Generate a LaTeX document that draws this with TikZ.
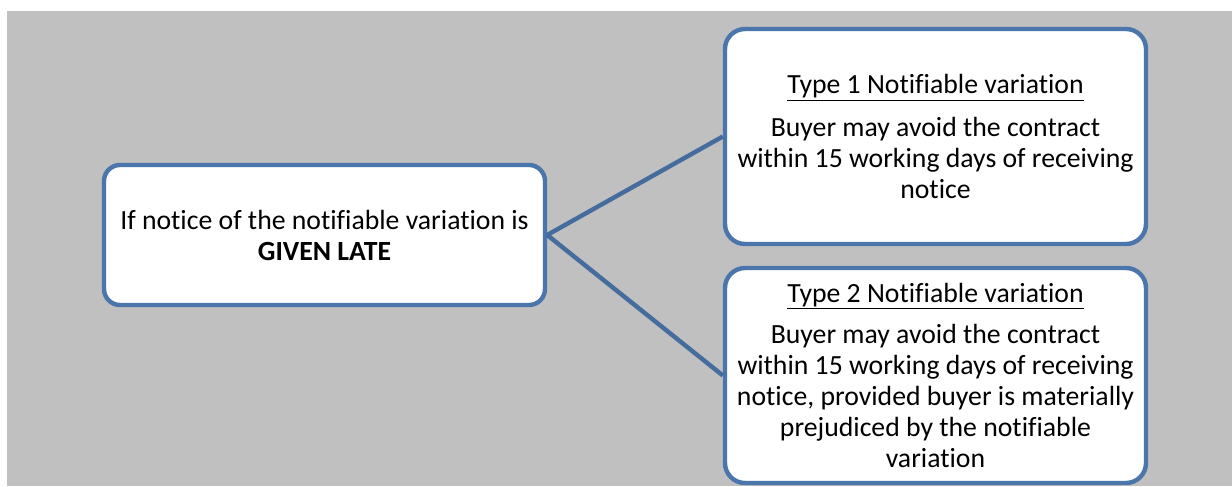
\documentclass[tikz,border=0pt]{standalone}
\usepackage{fontspec}
\setmainfont{Carlito}[Ligatures=NoCommon]
\definecolor{bgray}{RGB}{192,192,192}
\definecolor{bblue}{RGB}{74,118,172}
\begin{document}
\begin{tikzpicture}[x=0.75pt,y=-0.75pt,
  box/.style={draw=bblue,line width=3.3pt,fill=white,align=center,inner sep=0pt,
    font=\fontsize{20.8}{23.2}\selectfont},
  conn/.style={draw=bblue!92!black,line width=3.3pt}]
\useasboundingbox (0,0) rectangle (1232,486);
\fill[bgray] (7,11) rectangle (1232,486);
\node[box,rounded corners=12pt,minimum width=330.75pt,minimum height=105pt] (a) at (324.5,235)
  {If notice of the notifiable variation is\\\textbf{GIVEN LATE}};
\node[box,rounded corners=15pt,minimum width=315.75pt,minimum height=161.25pt] (b) at (935.5,136.5)
  {\underline{Type 1 Notifiable variation}\\[9pt]Buyer may avoid the contract\\within 15 working days of receiving\\notice};
\node[box,rounded corners=15pt,minimum width=315.75pt,minimum height=161.25pt] (c) at (935.5,375.5)
  {\underline{Type 2 Notifiable variation}\\[8pt]Buyer may avoid the contract\\within 15 working days of receiving\\notice, provided buyer is materially\\prejudiced by the notifiable\\variation};
\draw[conn] (a.east) -- (b.west);
\draw[conn] (a.east) -- (c.west);
\end{tikzpicture}
\end{document}
